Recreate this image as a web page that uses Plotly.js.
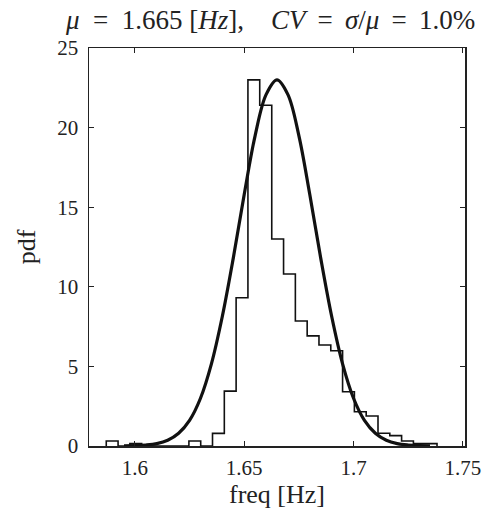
<!DOCTYPE html>
<html>
<head>
<meta charset="utf-8">
<script src="https://cdn.plot.ly/plotly-3.0.1.min.js"></script>
<style>html,body{margin:0;padding:0;background:#fff;}#chart{width:491px;height:515px;}</style>
</head>
<body>
<div id="chart"></div>
<script>
// Histogram bin edges (Hz) and bin heights (pdf)
var binEdges = [1.5869, 1.5923, 1.5977, 1.6031, 1.6085, 1.6139, 1.6193, 1.6247, 1.6301, 1.6355,
                1.6409, 1.6463, 1.6517, 1.6571, 1.6626, 1.6680, 1.6734, 1.6788, 1.6842, 1.6896,
                1.6950, 1.7004, 1.7058, 1.7112, 1.7166, 1.7220, 1.7274, 1.7328, 1.7382];
var binHeights = [0.31, 0, 0.15, 0, 0, 0, 0, 0.31, 0, 0.79,
                  3.45, 9.31, 23.0, 21.4, 13.0, 10.8, 7.85, 6.92, 6.34, 5.98,
                  3.41, 2.15, 1.88, 0.8, 0.65, 0.31, 0.15, 0.15];

// Fitted normal curve
var curveX = [1.595, 1.600, 1.605, 1.610, 1.615, 1.620, 1.625, 1.630, 1.635, 1.640,
              1.645, 1.650, 1.655, 1.660, 1.665, 1.670, 1.675, 1.680, 1.685, 1.690,
              1.695, 1.700, 1.705, 1.710, 1.715, 1.720, 1.725, 1.730, 1.735];
var curveY = [0.01, 0.02, 0.06, 0.15, 0.36, 0.80, 1.61, 3.0, 5.16, 8.15,
              11.8, 15.8, 19.5, 22.07, 23.0, 22.07, 19.5, 15.8, 11.8, 8.15,
              5.16, 3.0, 1.61, 0.80, 0.36, 0.15, 0.06, 0.02, 0.01];

var xTicks = [1.6, 1.65, 1.7, 1.75];
var xTickLabels = ['1.6', '1.65', '1.7', '1.75'];
var yTicks = [0, 5, 10, 15, 20, 25];

// build the stair outline from edges + heights
var stepX = [binEdges[0]];
var stepY = [0];
for (var i = 0; i < binHeights.length; i++) {
  stepX.push(binEdges[i]);
  stepY.push(binHeights[i]);
}
stepX.push(binEdges[binEdges.length - 1]);
stepY.push(binHeights[binHeights.length - 1]);
stepX.push(binEdges[binEdges.length - 1]);
stepY.push(0);

var serif = 'Liberation Serif, Times New Roman, serif';
var S = '\u00A0';
var T = '\u2009';

var traces = [
  {x: stepX, y: stepY, type: 'scatter', mode: 'lines',
   line: {shape: 'hv', color: '#111', width: 1.6}, hoverinfo: 'skip'},
  {x: curveX, y: curveY, type: 'scatter', mode: 'lines',
   line: {shape: 'spline', smoothing: 1, color: '#111', width: 3.2}, hoverinfo: 'skip'}
];

var axisCommon = {
  showline: true, linecolor: '#222', linewidth: 1.5, mirror: 'ticks',
  ticks: 'inside', ticklen: 5, tickcolor: '#222', tickwidth: 1,
  showgrid: false, zeroline: false,
  tickfont: {family: serif, size: 21, color: '#222'}
};

var titleText = '<i>μ</i>' + S + S + '=' + S + S + '1.665' + S + '[<i>Hz</i>],' + S + S + S + S +
                '<i>CV</i>' + S + T + '=' + S + T + '<i>σ</i>/<i>μ</i>' + S + T + '=' + S + T + '1.0%';

var layout = {
  width: 491, height: 515,
  margin: {l: 89, r: 26, t: 48, b: 69},
  paper_bgcolor: '#fff', plot_bgcolor: '#fff',
  showlegend: false,
  title: {
    text: titleText,
    font: {family: serif, size: 27, color: '#222'},
    xref: 'container', x: 0.551, xanchor: 'center',
    yref: 'container', y: 0.963, yanchor: 'middle'
  },
  xaxis: Object.assign({}, axisCommon, {
    range: [1.579, 1.751], tickvals: xTicks, ticktext: xTickLabels,
    ticklabelstandoff: 2,
    title: {text: 'freq [Hz]', font: {family: serif, size: 26, color: '#222'}, standoff: 6}
  }),
  yaxis: Object.assign({}, axisCommon, {
    range: [0, 25], tickvals: yTicks,
    ticklabelstandoff: 5,
    title: {text: 'pdf', font: {family: serif, size: 26, color: '#222'}, standoff: 14}
  })
};

Plotly.newPlot('chart', traces, layout, {displayModeBar: false, staticPlot: true});
</script>
</body>
</html>
